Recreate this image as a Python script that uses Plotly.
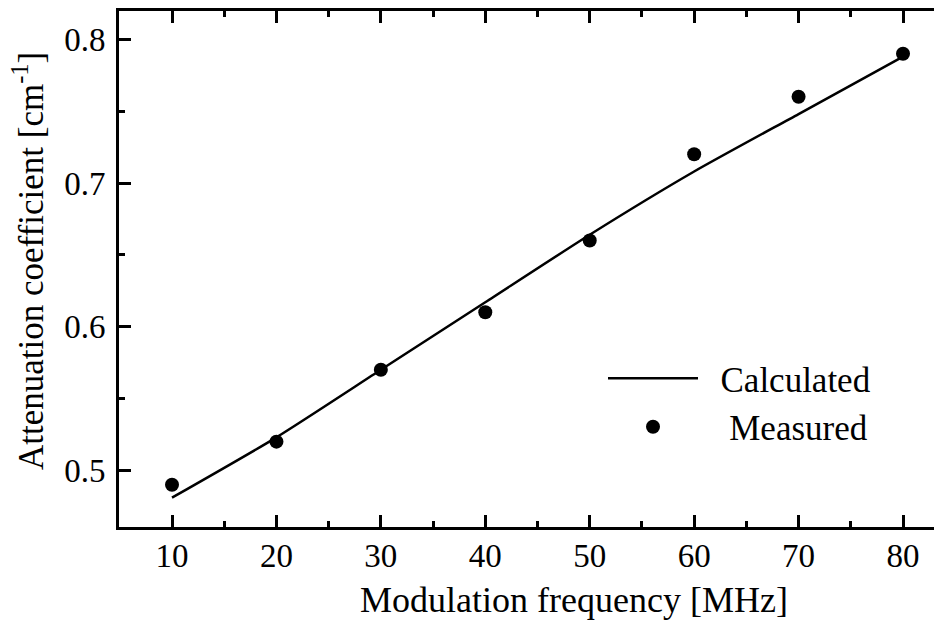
import plotly.graph_objects as go

# Data
freq_measured = [10, 20, 30, 40, 50, 60, 70, 80]
atten_measured = [0.49, 0.52, 0.57, 0.61, 0.66, 0.72, 0.76, 0.79]

freq_calc = [10, 20, 30, 40, 50, 60, 70, 80]
atten_calc = [0.481, 0.523, 0.570, 0.617, 0.664, 0.708, 0.748, 0.788]

x_ticks = [10, 20, 30, 40, 50, 60, 70, 80]
y_ticks = [0.5, 0.6, 0.7, 0.8]

FONT = "Liberation Serif"
NB = "\u00a0"

# page body has an 8px margin; plot area in window pixels: x 119..950, y 11..527
PW = 831.0
PH = 516.0


def px(xw):
    return (xw - 119) / PW


def py(yw):
    return (527 - yw) / PH


fig = go.Figure()
fig.add_trace(go.Scatter(
    x=freq_calc, y=atten_calc, mode="lines", name=NB * 2 + "Calculated",
    line=dict(color="black", width=2.5, shape="spline", smoothing=0.6),
))
fig.add_trace(go.Scatter(
    x=freq_measured, y=atten_measured, mode="markers", name=NB * 3 + "Measured",
    marker=dict(color="black", size=14, symbol="circle"),
))

axis_common = dict(
    showline=True, linecolor="black", linewidth=3,
    ticks="inside", ticklen=12, tickwidth=2.5, tickcolor="black",
    showgrid=False, zeroline=False, automargin=False,
    tickfont=dict(family=FONT, size=33, color="black"),
)

fig.update_xaxes(
    range=[4.925, 84.5], tickvals=x_ticks, mirror="allticks",
    minor=dict(ticks="inside", ticklen=6, tickwidth=2.5, tickcolor="black", dtick=5, tick0=0),
    ticklabelstandoff=-3,
    **axis_common,
)
fig.update_yaxes(
    range=[0.4606, 0.8197], tickvals=y_ticks, tickformat=".1f", mirror=False,
    minor=dict(ticks="inside", ticklen=6, tickwidth=2.5, tickcolor="black", dtick=0.05, tick0=0),
    ticklabelstandoff=4,
    **axis_common,
)

fig.add_annotation(
    text="Modulation frequency [MHz]", xref="paper", yref="paper",
    x=px(574), y=py(600), xanchor="center", yanchor="middle",
    showarrow=False, font=dict(family=FONT, size=36, color="black"),
)
fig.add_annotation(
    text="Attenuation coefficient [cm<sup>-1</sup>]", xref="paper", yref="paper",
    x=px(28), y=py(261), xanchor="center", yanchor="middle",
    textangle=-90, showarrow=False, font=dict(family=FONT, size=35, color="black"),
)

fig.update_layout(
    width=942, height=628,
    margin=dict(l=111, r=0, t=3, b=109, autoexpand=False),
    paper_bgcolor="white", plot_bgcolor="white",
    showlegend=True,
    legend=dict(
        x=px(603), y=py(349), xanchor="left", yanchor="top",
        bgcolor="rgba(0,0,0,0)", borderwidth=0,
        font=dict(family=FONT, size=35, color="black"),
        itemwidth=90,
    ),
    font=dict(family=FONT, color="black"),
)

fig.write_html("out.html")
